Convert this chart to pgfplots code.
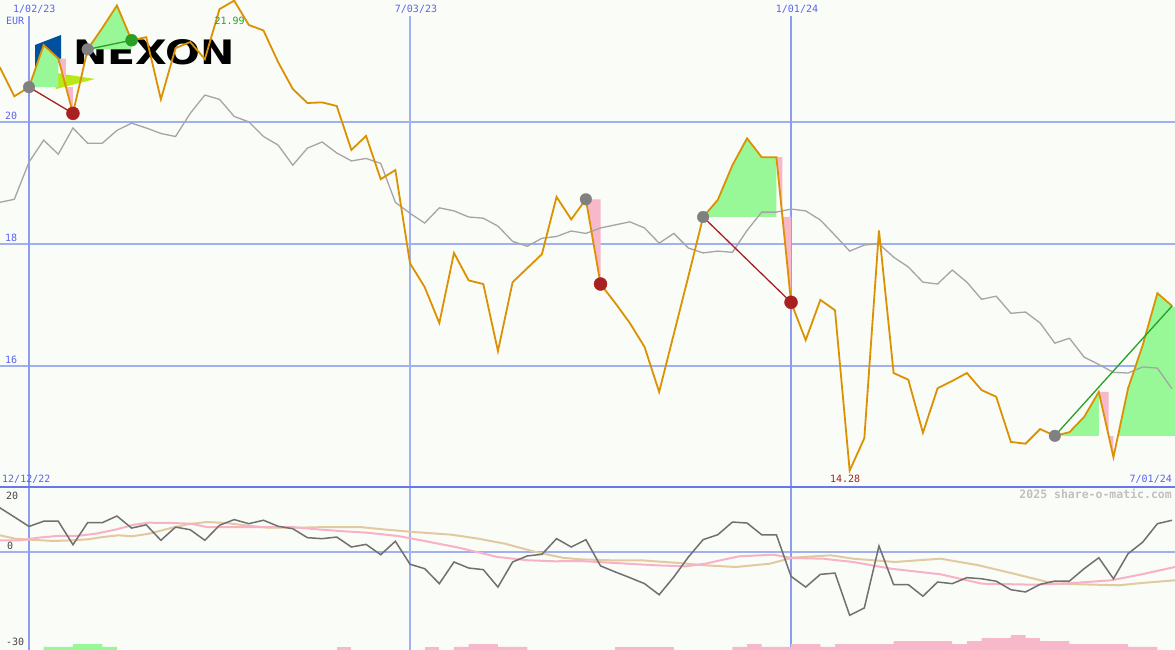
\documentclass[border=0pt]{standalone}
\usepackage{graphicx}
\usepackage{pgfplots}
\usepackage{pgfplotstable}
\pgfplotsset{compat=1.18}
\usepackage{fontspec}
\setmainfont{DejaVu Sans}
\newfontfamily\labelfont{DejaVu Sans Mono}
\newfontfamily\logofont{DejaVu Sans}

\definecolor{bgcol}{RGB}{250,252,248}
\definecolor{pricecol}{RGB}{220,145,0}
\definecolor{macol}{RGB}{165,165,165}
\definecolor{momcol}{RGB}{112,112,112}
\definecolor{pinkline}{RGB}{248,178,200}
\definecolor{tanline}{RGB}{226,202,160}
\definecolor{fillgreen}{RGB}{152,248,152}
\definecolor{fillpink}{RGB}{248,184,204}
\definecolor{gridblue}{RGB}{160,176,240}
\definecolor{thinblue}{RGB}{140,156,240}
\definecolor{sepblue}{RGB}{104,120,232}
\definecolor{labelblue}{RGB}{88,100,240}
\definecolor{sellred}{RGB}{168,32,32}
\definecolor{buygreen}{RGB}{40,160,40}
\definecolor{dotgray}{RGB}{128,128,128}
\definecolor{logoblue}{RGB}{0,80,160}
\definecolor{logolime}{RGB}{184,232,24}
\definecolor{credit}{RGB}{192,192,192}
\definecolor{lowlabel}{RGB}{70,70,70}

% weekly closes (EUR), 20-week average, momentum; week 0 = 1/02/23
\pgfplotstableread{
k   price  ma     mom
-2  20.90  18.68  13.65
-1  20.42  18.73  10.80
0   20.57  19.34   7.90
1   21.26  19.70   9.50
2   21.04  19.47   9.50
3   20.14  19.90   2.30
4   21.19  19.65   9.05
5   21.54  19.65   9.05
6   21.91  19.86  11.10
7   21.34  19.98   7.40
8   21.39  19.90   8.40
9   20.37  19.81   3.65
10  21.21  19.76   7.70
11  21.31  20.14   6.90
12  21.03  20.44   3.65
13  21.85  20.37   8.25
14  21.99  20.09  10.00
15  21.59  20.00   8.75
16  21.50  19.76   9.80
17  20.98  19.62   7.95
18  20.54  19.29   7.20
19  20.31  19.57   4.45
20  20.32  19.67   4.15
21  20.26  19.49   4.65
22  19.54  19.36   1.60
23  19.77  19.40   2.40
24  19.06  19.32  -0.77
25  19.21  18.68   3.35
26  17.68  18.50  -3.70
27  17.29  18.34  -5.05
28  16.70  18.59  -9.65
29  17.85  18.54  -3.00
30  17.40  18.44  -4.85
31  17.34  18.42  -5.35
32  16.24  18.29 -10.70
33  17.37  18.04  -3.00
34  17.60  17.96  -1.15
35  17.83  18.09  -0.65
36  18.77  18.12   4.15
37  18.40  18.21   1.60
38  18.73  18.17   3.85
39  17.34  18.26  -4.20
40  17.03  18.31  -6.05
41  16.70  18.36  -7.80
42  16.31  18.26  -9.65
43  15.57  18.01 -13.05
44  16.52  18.17  -7.60
45  17.47  17.93  -1.45
46  18.44  17.85   3.85
47  18.72  17.88   5.35
48  19.29  17.86   9.25
49  19.73  18.22   8.95
50  19.42  18.52   5.35
51  19.42  18.52   5.35
52  17.04  18.57  -7.40
53  16.42  18.54 -10.70
54  17.08  18.39  -6.80
55  16.91  18.14  -6.40
56  14.28  17.88 -19.35
57  14.81  17.98 -17.10
58  18.22  18.00   1.90
59  15.88  17.78  -9.95
60  15.77  17.62  -9.95
61  14.90  17.37 -13.50
62  15.63  17.34  -9.15
63  15.75  17.57  -9.65
64  15.88  17.37  -7.80
65  15.60  17.09  -8.15
66  15.49  17.14  -8.90
67  14.75  16.86 -11.50
68  14.72  16.88 -12.20
69  14.96  16.70  -9.85
70  14.85  16.37  -8.85
71  14.91  16.45  -8.85
72  15.16  16.14  -5.05
73  15.57  16.02  -1.70
74  14.50  15.89  -8.15
75  15.63  15.88  -0.45
76  16.34  15.98   3.10
77  17.19  15.96   8.75
78  16.98  15.62   9.80
}\weekly

\begin{document}
\begin{tikzpicture}[x=1pt,y=1pt]
\useasboundingbox (0,0) rectangle (1175,650);
\fill[bgcol] (0,0) rectangle (1175,650);

% company logo
\fill[logoblue] (35,605) -- (61,615) -- (61,588) -- (35,582) -- cycle;
\fill[logolime] (50,578) -- (95,571) -- (56,561) -- cycle;
\node[anchor=south west, inner sep=0pt] at (73,585)
  {\resizebox{162pt}{25pt}{\logofont\bfseries NEXON}};

% ---------------- price panel ----------------
\begin{axis}[
  at={(0pt,163pt)}, anchor=south west,
  scale only axis, width=1175pt, height=487pt,
  xmin=-1.979, xmax=78.205, ymin=14.01, ymax=22.0,
  hide axis, clip=true]
  % grid
  \draw[gridblue, line width=2pt] (axis cs:-2,20) -- (axis cs:79,20);
  \draw[gridblue, line width=2pt] (axis cs:-2,18) -- (axis cs:79,18);
  \draw[gridblue, line width=2pt] (axis cs:-2,16) -- (axis cs:79,16);
  \draw[thinblue, line width=1.1pt] (axis cs:0,21.74) -- (axis cs:0,14);
  \draw[gridblue, line width=2pt] (axis cs:26,21.74) -- (axis cs:26,14);
  \draw[thinblue, line width=1.1pt] (axis cs:52,21.74) -- (axis cs:52,14);

  % gain / loss shading of the trades
  \addplot[fill=fillgreen, draw=none] coordinates {(0,20.57) (1,21.26) (2,21.04) (2,20.57)} -- cycle;
  \addplot[fill=fillpink, draw=none] coordinates {(2,21.04) (2.52,21.04) (2.52,20.57) (3,20.57) (3,20.14)} -- cycle;
  \addplot[fill=fillgreen, draw=none] coordinates {(4,21.19) (5,21.54) (6,21.91) (7,21.34) (7,21.19)} -- cycle;
  \addplot[fill=fillpink, draw=none] coordinates {(38,18.73) (39,18.73) (39,17.34)} -- cycle;
  \addplot[fill=fillgreen, draw=none] coordinates {(46,18.44) (47,18.72) (48,19.29) (49,19.73) (50,19.42) (51,19.42) (51,18.44)} -- cycle;
  \addplot[fill=fillpink, draw=none] coordinates {(51,19.42) (51.41,19.42) (51.41,18.44) (52,18.44) (52,17.04)} -- cycle;
  \addplot[fill=fillgreen, draw=none] coordinates {(70,14.85) (71,14.91) (72,15.16) (73,15.57) (73,14.85)} -- cycle;
  \addplot[fill=fillpink, draw=none] coordinates {(73,15.57) (73.67,15.57) (73.67,14.85) (74,14.85) (74,14.50)} -- cycle;
  \addplot[fill=fillgreen, draw=none] coordinates {(74.31,14.85) (75,15.63) (76,16.34) (77,17.19) (78,16.98) (78.3,16.94) (78.3,14.85)} -- cycle;

  % moving average and price
  \addplot[macol, line width=1.3pt] table[x=k, y=ma] {\weekly};
  \addplot[pricecol, line width=1.8pt] table[x=k, y=price] {\weekly};

  % trade lines
  \addplot[sellred, line width=1.3pt] coordinates {(0,20.57) (3,20.14)};
  \addplot[buygreen, line width=1.3pt] coordinates {(4,21.19) (7,21.34)};
  \addplot[sellred, line width=1.3pt] coordinates {(46,18.44) (52,17.04)};
  \addplot[buygreen, line width=1.3pt] coordinates {(70,14.85) (78,16.98)};

  % signal points
  \addplot[only marks, mark=*, mark size=5.8pt, dotgray, mark options={draw=dotgray, fill=dotgray}]
    coordinates {(0,20.57) (4,21.19) (38,18.73) (46,18.44) (70,14.85)};
  \addplot[only marks, mark=*, mark size=6.5pt, sellred, mark options={draw=sellred, fill=sellred}]
    coordinates {(3,20.14) (39,17.34) (52,17.04)};
  \addplot[only marks, mark=*, mark size=6pt, buygreen, mark options={draw=buygreen, fill=buygreen}]
    coordinates {(7,21.34)};

  \coordinate (hi) at (axis cs:14,21.99);
  \coordinate (lo) at (axis cs:56,14.28);
\end{axis}

% ---------------- momentum panel ----------------
\begin{axis}[
  at={(0pt,0pt)}, anchor=south west,
  scale only axis, width=1175pt, height=163pt,
  xmin=-1.979, xmax=78.205, ymin=-30, ymax=20,
  hide axis, clip=true]
  \draw[gridblue, line width=2pt] (axis cs:-2,0) -- (axis cs:79,0);
  \draw[thinblue, line width=1.1pt] (axis cs:0,-31) -- (axis cs:0,21);
  \draw[gridblue, line width=2pt] (axis cs:26,-31) -- (axis cs:26,21);
  \draw[thinblue, line width=1.1pt] (axis cs:52,-31) -- (axis cs:52,21);

  % weekly volume-style bars along the bottom
  \addplot[fill=fillgreen, draw=none] coordinates {(1,-30) (1,-29.08) (3,-29.08) (3,-28.16) (5,-28.16) (5,-29.08) (6,-29.08) (6,-30)} -- cycle;
  \addplot[fill=fillpink, draw=none] coordinates {(21,-30) (21,-29.08) (22,-29.08) (22,-30)} -- cycle;
  \addplot[fill=fillpink, draw=none] coordinates {(27,-30) (27,-29.08) (28,-29.08) (28,-30)} -- cycle;
  \addplot[fill=fillpink, draw=none] coordinates {(29,-30) (29,-29.08) (30,-29.08) (30,-28.16) (32,-28.16) (32,-29.08) (34,-29.08) (34,-30)} -- cycle;
  \addplot[fill=fillpink, draw=none] coordinates {(40,-30) (40,-29.08) (44,-29.08) (44,-30)} -- cycle;
  \addplot[fill=fillpink, draw=none] coordinates {(48,-30) (48,-29.08) (49,-29.08) (49,-28.16) (50,-28.16) (50,-29.08) (52,-29.08) (52,-28.16) (54,-28.16) (54,-29.08) (55,-29.08) (55,-28.16) (59,-28.16) (59,-27.24) (63,-27.24) (63,-28.16) (64,-28.16) (64,-27.24) (65,-27.24) (65,-26.32) (67,-26.32) (67,-25.40) (68,-25.40) (68,-26.32) (69,-26.32) (69,-27.24) (71,-27.24) (71,-28.16) (75,-28.16) (75,-29.08) (77,-29.08) (77,-30)} -- cycle;

  % smoothed signal lines
  \addplot[tanline, line width=2pt] coordinates {(-1.98,5.18) (-0.93,4.14) (0.11,3.83) (1.68,3.44) (2.98,3.65) (4.03,3.96) (5.05,4.66) (6.11,5.18) (7.03,4.88) (8.19,5.67) (9.51,7.21) (10.82,8.56) (12.13,9.26) (13.43,8.96) (14.74,8.25) (16.31,7.52) (18.39,7.52) (20.47,7.73) (22.57,7.73) (24.14,7.02) (26.22,6.20) (28.84,5.37) (30.67,4.14) (32.48,2.61) (34.58,0.06) (36.41,-1.69) (37.60,-2.18) (39.65,-2.48) (41.74,-2.48) (44.34,-3.31) (46.14,-4.02) (48.22,-4.54) (50.55,-3.53) (52.10,-1.69) (54.69,-0.95) (56.23,-1.99) (59.10,-3.00) (62.20,-1.99) (64.80,-4.02) (67.38,-6.78) (69.97,-9.66) (71.79,-9.85) (74.38,-10.15) (75.93,-9.45) (78.20,-8.62)};
  \addplot[pinkline, line width=2pt] coordinates {(-1.98,3.65) (-0.55,3.65) (0.61,4.45) (1.91,4.97) (3.24,4.97) (4.55,5.67) (5.87,6.90) (7.17,8.44) (8.19,9.05) (9.76,8.96) (11.05,8.74) (12.13,7.73) (16.31,7.73) (17.88,7.73) (19.96,6.90) (21.52,6.41) (23.09,5.98) (25.18,4.97) (26.75,3.65) (29.34,1.38) (31.97,-1.47) (34.05,-2.48) (35.89,-2.79) (37.60,-2.70) (39.65,-3.22) (42.79,-4.02) (44.83,-4.33) (46.13,-3.53) (48.45,-1.26) (50.80,-0.77) (52.10,-1.78) (54.18,-1.99) (56.23,-3.00) (58.82,-5.06) (62.20,-6.78) (65.03,-9.66) (68.65,-9.97) (71.24,-9.45) (73.84,-8.62) (75.93,-6.78) (78.20,-4.54)};
  \addplot[momcol, line width=1.5pt] table[x=k, y=mom] {\weekly};
\end{axis}

% panel separator
\draw[sepblue, line width=2pt] (0,163) -- (1175,163);

% labels
\begin{scope}[every node/.style={inner sep=0pt, font=\labelfont\fontsize{10}{12}\selectfont}]
  \node[anchor=base west, text=labelblue] at (13,637) {1/02/23};
  \node[anchor=base, text=labelblue] at (416,637) {7/03/23};
  \node[anchor=base, text=labelblue] at (797,637) {1/01/24};
  \node[anchor=base west, text=labelblue] at (6,625) {EUR};
  \node[anchor=base west, text=labelblue] at (5,530.5) {20};
  \node[anchor=base west, text=labelblue] at (5,408.5) {18};
  \node[anchor=base west, text=labelblue] at (5,286.5) {16};
  \node[anchor=base west, text=labelblue] at (2,167) {12/12/22};
  \node[anchor=base east, text=labelblue] at (1172,167.3) {7/01/24};
  \node[anchor=base, text=buygreen] at ([xshift=-4.5pt, yshift=-24pt]hi) {21.99};
  \node[anchor=base, text=sellred] at ([xshift=-4.5pt, yshift=-12pt]lo) {14.28};
  \node[anchor=base west, text=lowlabel] at (6,150.3) {20};
  \node[anchor=base west, text=lowlabel] at (7,100.3) {0};
  \node[anchor=base west, text=lowlabel] at (6,4) {-30};
  \node[anchor=base east, text=credit, font=\labelfont\bfseries\fontsize{11.5}{13}\selectfont] at (1172,151) {2025 share-o-matic.com};
\end{scope}
\end{tikzpicture}
\end{document}
